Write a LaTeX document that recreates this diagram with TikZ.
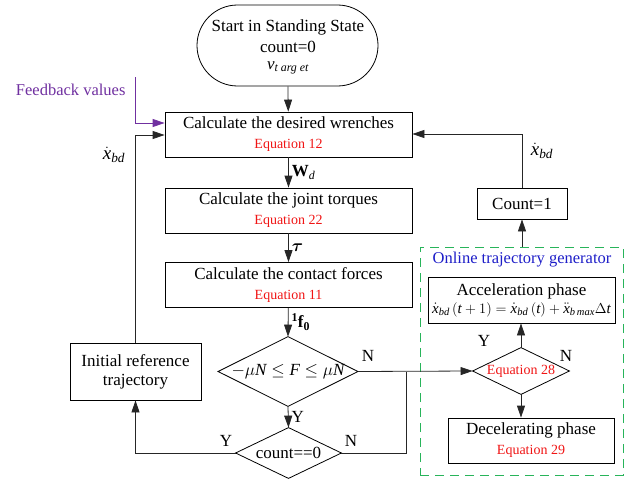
\documentclass[tikz,border=0pt]{standalone}
\usepackage{amsmath,amssymb,bm}
\usepackage{fontspec}
\setmainfont{Liberation Serif}
\usetikzlibrary{shapes.geometric,shapes.misc,arrows.meta}
\definecolor{eqred}{RGB}{240,20,20}
\definecolor{fbpurple}{RGB}{112,48,160}
\definecolor{dgreen}{RGB}{40,180,90}
\definecolor{tblue}{RGB}{30,30,200}
\tikzset{
  base/.style={draw=black, line width=0.8pt, inner sep=0pt, align=center, font=\fontsize{17}{19}\selectfont},
  procbox/.style={base, rectangle, minimum width=247pt, minimum height=45pt},
  decis/.style={base, draw=none, rectangle},
  dshape/.style={draw=black, line width=0.8pt},
  conn/.style={draw=black!85, line width=0.8pt},
  arr/.style={conn, -{Triangle[length=12pt,width=8pt]}},
  lbl/.style={font=\fontsize{17}{19}\selectfont, inner sep=1pt}
}
\newcommand{\eqn}[1]{{\color{eqred}\fontsize{14}{16}\selectfont Equation #1}}
\newcommand{\tx}[1]{\textit{#1}}
\newcommand{\xbd}{\dot{\tx{x}}_{\tx{bd}}}
\begin{document}
\begin{tikzpicture}[x=1pt,y=-1pt]
\useasboundingbox (0,0) rectangle (633,479);
% start
\node[base, rounded rectangle, minimum width=181pt, minimum height=81pt] (start) at (287.5,45.5) {};
\node[lbl] (st1) at (288,27) {Start in Standing State};
\node[lbl] (st2) at (288,47) {count=0};
\node[lbl] (st3) at (288,68) {$\tx{v}_{\tx{t arg et}}$};
% main boxes
\node[procbox] (b1) at (288.5,134.5) {Calculate the desired wrenches\\[1pt]\eqn{12}};
\node[procbox] (b2) at (288.5,210.5) {Calculate the joint torques\\[1pt]\eqn{22}};
\node[procbox] (b3) at (288.5,285) {Calculate the contact forces\\[1pt]\eqn{11}};
% decisions
\node[decis, minimum width=139pt, minimum height=69pt] (d1) at (288,371.5) {$-\mu \tx{N} \le \tx{F} \le \mu \tx{N}$};
\draw[dshape] (d1.north) -- (d1.east) -- (d1.south) -- (d1.west) -- cycle;
\node[decis, minimum width=105pt, minimum height=50pt] (d2) at (288.5,453) {count==0};
\draw[dshape] (d2.north) -- (d2.east) -- (d2.south) -- (d2.west) -- cycle;
% initial reference
\node[base, rectangle, minimum width=131pt, minimum height=57pt] (ir) at (135.5,371.5) {Initial reference\\trajectory};
% right side
\node[base, rectangle, minimum width=90pt, minimum height=31pt] (c1) at (522,203.5) {Count=1};
\node[draw=dgreen, dashed, dash pattern=on 9pt off 6pt, line width=1pt, minimum width=203pt, minimum height=228pt, inner sep=0pt] (og) at (521.5,361) {};
\node[text=tblue, font=\fontsize{16.5}{18}\selectfont] (ogt) at (522,260) {Online trajectory generator};
\node[base, rectangle, minimum width=187pt, minimum height=46pt] (acc) at (521.5,300) {Acceleration phase\\[-1pt]{\fontsize{15}{17}\selectfont $\xbd\,(\tx{t}+1)=\xbd\,(\tx{t})+\ddot{\tx{x}}_{\tx{b\,max}}\Delta \tx{t}$}};
\node[decis, minimum width=96pt, minimum height=46pt] (d3) at (521,371) {\eqn{28}};
\draw[dshape] (d3.north) -- (d3.east) -- (d3.south) -- (d3.west) -- cycle;
\node[base, rectangle, minimum width=166pt, minimum height=45pt] (dec) at (531,440.5) {Decelerating phase\\[1pt]\eqn{29}};
% coordinates
\coordinate (fbtop) at (135,77);
\coordinate (fbc) at (135,123);
\coordinate (fbend) at (b1.west |- fbc);
\coordinate (lc) at (135,135);
\coordinate (rc) at (522,134);
\coordinate (nj) at (406,371.5);
% connectors
\draw[arr] (start) -- (b1);
\draw[arr] (b1) -- node[right, lbl, xshift=2pt] {$\mathbf{W}_{\tx{d}}$} (b2);
\draw[arr] (b2) -- node[right, lbl, xshift=2pt] {$\boldsymbol{\tau}$} (b3);
\draw[arr] (b3) -- node[right, lbl, xshift=2pt] {${}^{\mathbf{1}}\mathbf{f}_{\mathbf{0}}$} (d1.north);
\draw[arr] (d1.south) -- node[right, lbl, xshift=2pt] {Y} (d2.north);
\draw[arr] (d1.east) -- (d3.west);
\draw[conn] (d2.east) -| (nj);
\draw[arr] (d2.west) -| (ir.south);
\draw[arr] (ir.north) |- (b1.west |- lc);
\draw[arr, draw=fbpurple, -{Triangle[length=12pt,width=8pt,fill=fbpurple]}] (fbtop) |- (fbend);
\draw[arr] (c1.north) |- (b1.east |- rc);
\draw[arr] (og.north -| c1) -- (c1.south);
\draw[arr] (d3.north) -- (acc.south -| d3.north);
\draw[arr] (d3.south) -- (dec.north -| d3.south);
% labels
\node[text=fbpurple, font=\fontsize{16.5}{18}\selectfont, anchor=east] (fbl) at (129,90) {Feedback values};
\node[lbl, font=\fontsize{19}{21}\selectfont] (xl) at (114,155) {$\xbd$};
\node[lbl, font=\fontsize{19}{21}\selectfont] (xr) at (542,151) {$\xbd$};
\node[lbl] (n1) at (368,356) {N};
\node[lbl] (n2) at (351,441) {N};
\node[lbl] (y2) at (226,441) {Y};
\node[lbl] (y3) at (484,341) {Y};
\node[lbl] (n3) at (566,356) {N};
\end{tikzpicture}
\end{document}
